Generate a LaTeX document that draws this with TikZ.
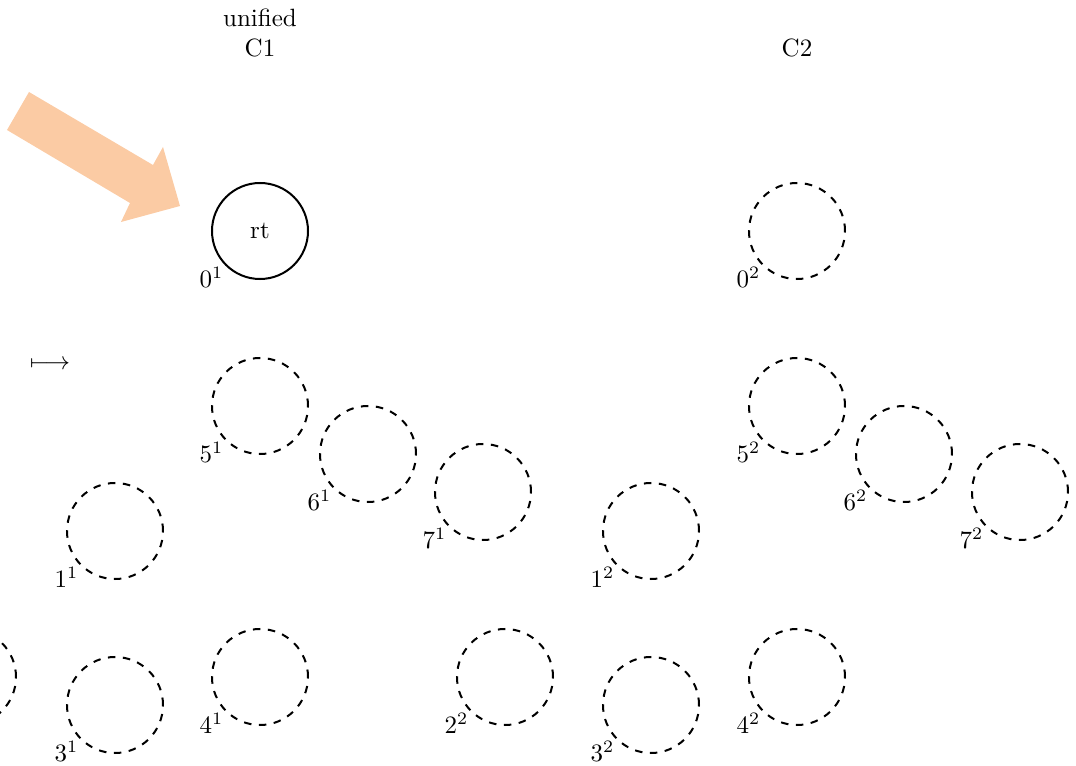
\documentclass[tikz,border=0pt]{standalone}
\usepackage{amsmath}
\definecolor{peach}{RGB}{251,203,164}
\begin{document}
\begin{tikzpicture}[x=0.4pt,y=-0.4pt,
  cell/.style={circle,draw,thick,minimum size=38.4pt,inner sep=0pt},
  ghost/.style={cell,dashed},
  every label/.style={inner sep=0.6pt},
  head/.style={align=center}]
\useasboundingbox (0,0) rectangle (1076,766);
% column headings
\node[head] (h1) at (260,33) {unified\\C1};
\node[head] (h2) at (797,48) {C2};
% big arrow
\fill[peach] (29,92) -- (153,165) -- (163,147) -- (180,206) -- (121,222) -- (130,203) -- (7,130) -- cycle;
% maps-to sign
\node (mt) at (50,365) {$\longmapsto$};
% copy 1
\node[cell,label=south west:$0^1$] (c10) at (260,231) {rt};
\node[ghost,label=south west:$5^1$] (c15) at (260,406) {};
\node[ghost,label=south west:$6^1$] (c16) at (368,454) {};
\node[ghost,label=south west:$7^1$] (c17) at (483,492) {};
\node[ghost,label=south west:$1^1$] (c11) at (115,531) {};
\node[ghost,label=south west:$3^1$] (c13) at (115,705) {};
\node[ghost,label=south west:$4^1$] (c14) at (260,677) {};
\node[ghost] (c12) at (-32,677) {};
% copy 2
\node[ghost,label=south west:$0^2$] (c20) at (797,231) {};
\node[ghost,label=south west:$5^2$] (c25) at (797,406) {};
\node[ghost,label=south west:$6^2$] (c26) at (904,454) {};
\node[ghost,label=south west:$7^2$] (c27) at (1020,492) {};
\node[ghost,label=south west:$1^2$] (c21) at (651,531) {};
\node[ghost,label=south west:$3^2$] (c23) at (651,705) {};
\node[ghost,label=south west:$4^2$] (c24) at (797,677) {};
\node[ghost,label=south west:$2^2$] (c22) at (505,677) {};
\end{tikzpicture}
\end{document}
